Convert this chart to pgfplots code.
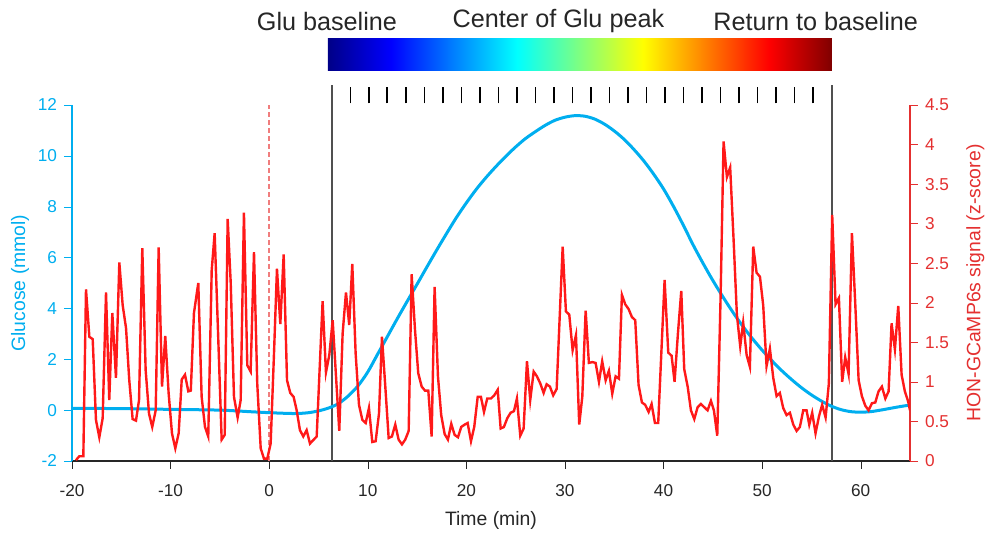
\documentclass[border=0pt]{standalone}
\usepackage{fontspec}
\setmainfont{Liberation Sans}
\usepackage{pgfplots}
\pgfplotsset{compat=1.18}

\definecolor{glublue}{RGB}{0,174,239}
\definecolor{sigred}{RGB}{255,25,25}
\definecolor{axred}{RGB}{228,48,48}
\definecolor{dashred}{RGB}{240,125,125}
\definecolor{txt}{RGB}{38,38,38}
\definecolor{vgray}{RGB}{80,80,80}

% jet colormap for the bar on top (tikz maps the path onto 25bp..75bp)
\pgfdeclarehorizontalshading{jet}{100bp}{rgb(0bp)=(0,0,0.53); rgb(25bp)=(0,0,0.53);
  rgb(31.25bp)=(0,0,1); rgb(43.75bp)=(0,1,1); rgb(56.25bp)=(1,1,0);
  rgb(68.75bp)=(1,0,0); rgb(75bp)=(0.5,0,0); rgb(100bp)=(0.5,0,0)}

\pgfplotsset{
  base/.style={
    width=419pt, height=178pt, scale only axis,
    at={(0,0)}, anchor=south west,
    xmin=-20, xmax=65,
    tick align=outside, major tick length=4pt,
    /pgf/number format/assume math mode=true,
    tick label style={font=\fontsize{8.6}{10}\selectfont},
    label style={font=\fontsize{9.7}{11}\selectfont},
  }
}

\begin{document}
\begin{tikzpicture}

% glucose (left axis)
\begin{axis}[base,
    ymin=-2, ymax=12, ytick={-2,0,2,4,6,8,10,12},
    xtick={-20,-10,0,10,20,30,40,50,60},
    axis y line*=left, axis x line*=bottom,
    y axis line style={glublue, line width=0.8pt, -},
    x axis line style={txt, line width=0.6pt, -},
    ytick style={glublue}, yticklabel style={glublue},
    xtick style={txt}, xticklabel style={txt, yshift=-4pt},
    ylabel={Glucose (mmol)},
    ylabel style={glublue, at={(axis description cs:-0.062,0.5)}, anchor=center},
    xlabel={Time (min)},
    xlabel style={txt, at={(axis description cs:0.5,-0.168)}, anchor=center},
    clip=false]

\draw[dashred, line width=0.8pt, dash pattern=on 2.5pt off 1.5pt] (axis cs:0,-2) -- (axis cs:0,12);
\draw[vgray, line width=1pt] (axis cs:6.35,-2) -- (axis cs:6.35,12.79);
\draw[vgray, line width=1pt] (axis cs:57.05,-2) -- (axis cs:57.05,12.79);
\pgfplotsinvokeforeach{8.23,10.11,11.98,13.86,15.74,17.62,19.49,21.37,23.25,25.13,27.01,28.88,30.76,32.64,34.52,36.39,38.27,40.15,42.03,43.91,45.78,47.66,49.54,51.42,53.29,55.17}{
  \draw[black, line width=0.8pt] (axis cs:#1,12.06) -- (axis cs:#1,12.7);
}
\shade[shading=jet] (axis cs:5.96,13.34) rectangle (axis cs:57.08,14.63);
\node[font=\fontsize{12.6}{15}\selectfont, text=txt] at (axis cs:5.86,15.3) {Glu baseline};
\node[font=\fontsize{12.6}{15}\selectfont, text=txt] at (axis cs:29.34,15.3) {Center of Glu peak};
\node[font=\fontsize{12.6}{15}\selectfont, text=txt] at (axis cs:55.44,15.3) {Return to baseline};

\addplot[glublue, line width=1.5pt, smooth] coordinates {
(-20,0.07)(-15,0.06)(-10,0.03)(-5,0.0)(-2,-0.06)(0,-0.1)(2,-0.13)(3,-0.13)(4,-0.1)
(5,-0.03)(6,0.08)(7,0.25)(8,0.55)(9,0.95)(10,1.5)(11,2.2)(12,2.9)(13,3.6)(14,4.28)
(15,4.95)(16,5.63)(17,6.3)(18,6.95)(19,7.58)(20,8.15)(21,8.68)(22,9.15)(23,9.58)
(24,9.98)(25,10.35)(26,10.68)(27,10.95)(28,11.2)(29,11.4)(30,11.52)(31,11.58)
(32,11.56)(33,11.45)(34,11.25)(35,10.98)(36,10.65)(37,10.25)(38,9.8)(39,9.28)
(40,8.7)(41,8.02)(42,7.28)(43,6.5)(44,5.78)(45,5.1)(46,4.47)(47,3.87)(48,3.32)
(49,2.82)(50,2.36)(51,1.94)(52,1.55)(53,1.2)(54,0.88)(55,0.6)(56,0.36)(57,0.16)
(58,0.02)(59,-0.06)(60,-0.08)(61,-0.06)(62,0.0)(63,0.07)(64,0.14)(65,0.2)
};
\end{axis}

% HON-GCaMP6s signal (right axis)
\begin{axis}[base,
    ymin=0, ymax=4.5, ytick={0,0.5,1,1.5,2,2.5,3,3.5,4,4.5},
    axis y line*=right, axis x line=none,
    y axis line style={axred, line width=0.6pt, -},
    ytick style={axred}, yticklabel style={axred},
    ylabel={HON-GCaMP6s signal (z-score)},
    ylabel style={axred, at={(axis description cs:1.078,0.5)}, anchor=center, rotate=0}]
\addplot[sigred, line width=1.2pt] coordinates {
(-19.6,0.01)(-19.26,0.06)(-18.85,0.06)(-18.58,2.17)(-18.24,1.57)(-17.9,1.54)(-17.57,0.52)
(-17.23,0.30)(-16.89,0.54)(-16.55,2.13)(-16.22,0.77)(-15.91,1.87)(-15.54,1.05)(-15.2,2.51)
(-14.86,1.97)(-14.52,1.68)(-14.19,1.02)(-13.85,0.53)(-13.51,0.51)(-13.2,0.77)(-12.87,2.69)
(-12.53,1.15)(-12.19,0.60)(-11.86,0.43)(-11.51,0.64)(-11.21,2.70)(-10.87,0.94)(-10.54,1.58)
(-10.2,0.86)(-9.86,0.35)(-9.52,0.16)(-9.18,0.35)(-8.87,1.03)(-8.54,1.09)(-8.2,0.88)
(-7.95,0.89)(-7.63,1.87)(-7.19,2.25)(-6.85,0.81)(-6.51,0.43)(-6.18,0.31)(-5.83,2.41)
(-5.53,2.88)(-5.16,1.53)(-4.82,0.27)(-4.51,0.33)(-4.21,3.06)(-3.9,2.25)(-3.57,0.81)
(-3.2,0.55)(-2.89,0.77)(-2.56,3.14)(-2.22,1.21)(-1.88,1.13)(-1.54,2.64)(-1.21,0.98)
(-0.86,0.16)(-0.53,0.03)(-0.19,0.03)(0.15,0.22)(0.49,1.36)(0.79,2.43)(1.13,1.73)
(1.47,2.61)(1.81,1.02)(2.14,0.86)(2.48,0.81)(2.79,0.64)(3.12,0.39)(3.46,0.31)(3.8,0.39)
(4.14,0.22)(4.82,0.31)(5.42,2.02)(5.76,1.12)(6.1,1.34)(6.44,1.78)(6.77,1.09)(7.11,0.38)
(7.45,1.61)(7.79,2.13)(8.12,1.72)(8.43,2.49)(8.77,1.36)(9.11,0.71)(9.45,0.52)(9.79,0.48)
(10.12,0.67)(10.46,0.24)(10.8,0.25)(11.14,0.60)(11.44,1.57)(11.78,0.94)(12.12,0.29)
(12.45,0.31)(12.79,0.46)(13.13,0.27)(13.47,0.21)(13.8,0.27)(14.15,0.38)(14.45,2.36)
(14.79,1.66)(15.12,1.11)(15.47,0.94)(15.8,0.89)(16.14,0.89)(16.48,0.31)(16.78,2.2)
(17.12,1.07)(17.45,0.58)(17.8,0.34)(18.13,0.27)(18.47,0.47)(18.81,0.33)(19.15,0.30)
(19.48,0.43)(19.83,0.46)(20.13,0.48)(20.47,0.25)(20.8,0.43)(21.15,0.81)(21.48,0.81)
(21.79,0.62)(22.12,0.79)(22.5,0.79)(22.83,0.83)(23.18,0.90)(23.48,0.41)(23.81,0.43)
(24.15,0.54)(24.49,0.61)(24.83,0.63)(25.13,0.79)(25.47,0.32)(25.81,0.41)(26.15,1.26)
(26.48,0.77)(26.83,1.13)(27.16,1.07)(27.5,0.98)(27.84,0.86)(28.14,0.97)(28.48,0.94)
(28.81,0.83)(29.16,0.91)(29.77,2.71)(30.1,1.89)(30.44,1.85)(30.78,1.40)(31.12,1.59)
(31.45,0.46)(31.76,0.81)(32.1,1.90)(32.43,1.24)(32.77,1.25)(33.11,1.24)(33.45,1.0)
(33.78,1.26)(34.13,1.02)(34.46,1.14)(34.8,0.85)(35.14,1.07)(35.48,1.04)(35.78,2.10)
(36.12,1.98)(36.46,1.92)(36.79,1.82)(37.13,1.78)(37.47,0.96)(37.81,0.74)(38.14,0.71)
(38.49,0.62)(38.79,0.72)(39.13,0.48)(39.46,0.48)(40.11,2.29)(40.48,1.37)(40.82,1.33)
(41.12,1.0)(41.46,1.61)(41.8,2.15)(42.1,1.16)(42.45,0.94)(42.78,0.64)(43.12,0.53)
(43.46,0.68)(43.79,0.72)(44.13,0.68)(44.47,0.64)(44.81,0.76)(45.11,0.64)(45.45,0.32)
(45.79,2.08)(46.09,4.04)(46.43,3.59)(46.76,3.71)(47.11,2.79)(47.44,1.85)(47.78,1.45)
(48.08,1.75)(48.43,1.34)(48.76,1.19)(49.1,2.71)(49.44,2.38)(49.78,2.33)(50.11,1.97)
(50.45,1.20)(50.79,1.42)(51.13,1.05)(51.47,0.82)(51.8,0.86)(52.14,0.67)(52.48,0.58)
(52.82,0.61)(53.16,0.46)(53.5,0.38)(53.83,0.43)(54.17,0.64)(54.51,0.64)(54.78,0.46)
(55.08,0.61)(55.42,0.35)(55.76,0.56)(56.09,0.71)(56.44,0.55)(56.77,0.98)(57.11,3.11)
(57.45,1.98)(57.79,2.06)(58.12,1.0)(58.43,1.31)(58.77,1.10)(59.11,2.88)(59.44,2.01)
(59.79,1.02)(60.12,0.82)(60.46,0.70)(60.8,0.64)(61.14,0.73)(61.48,0.74)(61.81,0.88)
(62.15,0.94)(62.5,0.79)(62.83,0.88)(63.13,1.74)(63.47,1.41)(63.81,1.96)(64.15,1.09)
(64.48,0.88)(64.82,0.75)(65.0,0.64)
};
\end{axis}

\pgfresetboundingbox
\path[use as bounding box] (-36pt,-36pt) rectangle (457pt,230.5pt);
\end{tikzpicture}
\end{document}
